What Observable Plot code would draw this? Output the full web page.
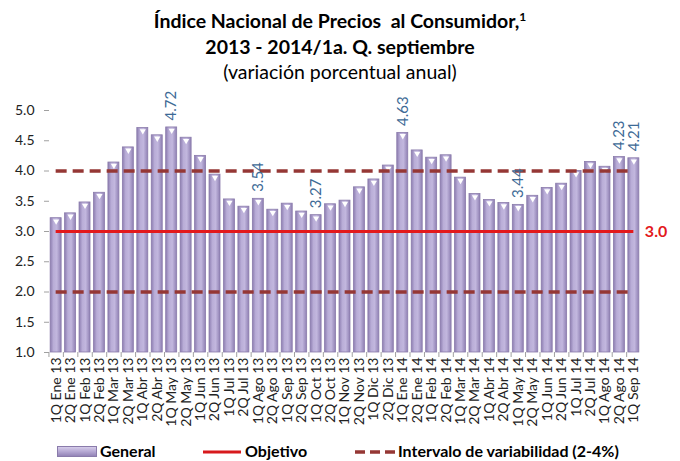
<!DOCTYPE html>
<html><head><meta charset="utf-8">
<script src="https://cdn.jsdelivr.net/npm/d3@7"></script>
<script src="https://cdn.jsdelivr.net/npm/@observablehq/plot@0.6"></script>
<style>
body{margin:0;background:#fff;width:680px;height:461px;overflow:hidden;font-family:Lato,"Open Sans",sans-serif;position:relative}
.t{position:absolute;left:0;width:680px;text-align:center;color:#000;white-space:pre}
#t1{top:9px;font-size:19.5px;font-weight:bold}
#t1 sup{font-size:12px;vertical-align:7px}
#t2{top:35px;font-size:19.5px;font-weight:bold}
#t3{top:60px;font-size:19.5px}
#chart{position:absolute;left:0;top:90px}
.leg{position:absolute;top:441px;font-size:16px;font-weight:bold;color:#000}
.sw{position:absolute}
</style></head><body>
<div class="t" id="t1">Índice Nacional de Precios  al Consumidor,<sup>1</sup></div>
<div class="t" id="t2">2013 - 2014/1a. Q. septiembre</div>
<div class="t" id="t3">(variación porcentual anual)</div>
<div id="chart"></div>
<svg class="sw" style="left:57px;top:446px" width="40" height="11"><defs><linearGradient id="lg" x1="0" x2="0" y1="0" y2="1"><stop offset="0" stop-color="#d9d0ec"/><stop offset="0.5" stop-color="#b5a8d3"/><stop offset="1" stop-color="#8f80b4"/></linearGradient></defs><rect x="0.5" y="0.5" width="39" height="10" fill="url(#lg)" stroke="#8a7bab"/></svg>
<div class="leg" style="left:100px">General</div>
<svg class="sw" style="left:203px;top:450px" width="38" height="4"><line x1="0" x2="38" y1="2" y2="2" stroke="#d7191c" stroke-width="3"/></svg>
<div class="leg" style="left:245px">Objetivo</div>
<svg class="sw" style="left:355px;top:450px" width="40" height="4"><line x1="0" x2="40" y1="2" y2="2" stroke="#953735" stroke-width="3.5" stroke-dasharray="10,5"/></svg>
<div class="leg" style="left:398px">Intervalo de variabilidad (2-4%)</div>
<script>
const periods = ["1Q Ene 13","2Q Ene 13","1Q Feb 13","2Q Feb 13","1Q Mar 13","2Q Mar 13","1Q Abr 13","2Q Abr 13","1Q May 13","2Q May 13","1Q Jun 13","2Q Jun 13","1Q Jul 13","2Q Jul 13","1Q Ago 13","2Q Ago 13","1Q Sep 13","2Q Sep 13","1Q Oct 13","2Q Oct 13","1Q Nov 13","2Q Nov 13","1Q Dic 13","2Q Dic 13","1Q Ene 14","2Q Ene 14","1Q Feb 14","2Q Feb 14","1Q Mar 14","2Q Mar 14","1Q Abr 14","2Q Abr 14","1Q May 14","2Q May 14","1Q Jun 14","2Q Jun 14","1Q Jul 14","2Q Jul 14","1Q Ago 14","2Q Ago 14","1Q Sep 14"];
const general = [3.22,3.30,3.48,3.64,4.14,4.39,4.71,4.59,4.72,4.55,4.25,3.94,3.53,3.41,3.54,3.36,3.46,3.33,3.27,3.45,3.51,3.73,3.86,4.09,4.63,4.34,4.22,4.26,3.89,3.62,3.52,3.47,3.44,3.59,3.72,3.79,4.00,4.15,4.07,4.23,4.21];
const labeledPeriods = ["1Q May 13","1Q Ago 13","1Q Oct 13","1Q Ene 14","1Q May 14","2Q Ago 14","1Q Sep 14"];
const objetivo = 3.0;
const intervalo = [2.0, 4.0];
const yTicks = [1.0,1.5,2.0,2.5,3.0,3.5,4.0,4.5,5.0];

const data = periods.map((p,i)=>({period:p, value:general[i]}));
const labeled = data.filter(d=>labeledPeriods.includes(d.period));
const ends = [{x1:periods[0], x2:periods[periods.length-1]}];

const chart = Plot.plot({
  width:680, height:350,
  marginTop:20, marginBottom:88, marginLeft:49, marginRight:40,
  style:{fontFamily:"Lato, 'Open Sans', sans-serif", background:"transparent"},
  x:{domain:periods, paddingInner:0.24, paddingOuter:0.08, round:false, label:null},
  y:{domain:[1,5], label:null},
  marks:[
    Plot.barY(data,{x:"period", y1:1, y2:"value", fill:"url(#barGrad)", stroke:"#8a7bab", strokeWidth:0.8}),
    Plot.dot(data,{x:"period", y:"value", symbol:"triangle", rotate:180, r:2.3, fill:"white", stroke:"none", dy:3}),
    Plot.ruleY(intervalo.map(v=>({v})),{y:"v", x1:()=>ends[0].x1, x2:()=>ends[0].x2, insetLeft:5.5, insetRight:5.5, stroke:"#953735", strokeWidth:3.5, strokeDasharray:"11,6"}),
    Plot.ruleY([objetivo],{y:d=>d, x1:()=>ends[0].x1, x2:()=>ends[0].x2, insetLeft:5.5, insetRight:5.5, stroke:"#e3191c", strokeWidth:3}),
    Plot.text([objetivo],{y:d=>d, x:()=>ends[0].x2, text:d=>d3.format(".1f")(d), textAnchor:"start", dx:11, fill:"#e3191c", fontWeight:"bold", fontSize:16}),
    Plot.text(labeled,{x:"period", y:"value", text:d=>d3.format(".2f")(d.value), rotate:-90, textAnchor:"start", lineAnchor:"middle", dy:-7, fill:"#3d6a96", fontSize:15}),
    Plot.axisY({ticks:yTicks, tickFormat:".1f", tickSize:5, tickPadding:10, fontSize:14, color:"#222", stroke:"#a0a0a0", line:true}),
    Plot.axisX({tickRotate:-90, tickSize:0, tickPadding:5, fontSize:14, color:"#222", line:true, stroke:"#a0a0a0"}),
    Plot.axisX({tickSize:5, text:null, dx:-7.2, stroke:"#a0a0a0"})
  ]
});
d3.select(chart).insert("defs",":first-child").html(
  '<linearGradient id="barGrad" x1="0" x2="1" y1="0" y2="0">'+
  '<stop offset="0" stop-color="#8c7db0"/><stop offset="0.3" stop-color="#b9add7"/>'+
  '<stop offset="0.6" stop-color="#c2b7de"/><stop offset="1" stop-color="#8f80b3"/></linearGradient>');
document.getElementById("chart").appendChild(chart);
</script>
</body></html>
